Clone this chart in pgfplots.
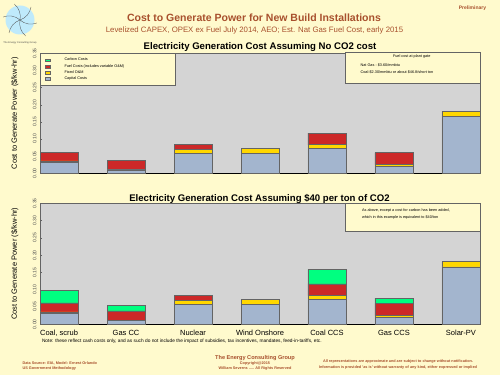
\documentclass[border=0pt]{standalone}
\usepackage{pgfplots}
\pgfplotsset{compat=1.18}
\usepackage{pgfplotstable}
\usepackage{fontspec}
\setmainfont{Liberation Sans}
\definecolor{cream}{RGB}{255,250,205}
\definecolor{plotbg}{RGB}{212,212,212}
\definecolor{capc}{RGB}{163,181,206}
\definecolor{fixc}{RGB}{255,215,0}
\definecolor{fuelc}{RGB}{204,40,40}
\definecolor{carbc}{RGB}{0,255,128}
\definecolor{brownt}{RGB}{168,80,45}
\definecolor{edgec}{RGB}{100,100,100}
\newcommand{\fs}[1]{\fontsize{#1}{#1}\selectfont}

\pgfplotstableread{
x cap fix fuel carb
0 0.032 0.004 0.026 0.035
1 0.010 0.0015 0.027 0.015
2 0.058 0.011 0.015 0.000
3 0.058 0.014 0.000 0.000
4 0.072 0.011 0.034 0.042
5 0.021 0.004 0.035 0.016
6 0.166 0.015 0.000 0.000
}\costdata

\pgfplotsset{
  costaxis/.style={
    scale only axis, width=440pt, height=120pt,
    xmin=-0.285, xmax=6.285, ymin=0, ymax=0.35,
    ybar stacked, bar width=38pt,
    axis background/.style={fill=plotbg},
    axis line style={draw=edgec, line width=0.6pt},
    ytick={0,0.05,...,0.36}, ytick pos=left,
    yticklabel style={rotate=90, anchor=south, font=\fs{5}, text=black!70,
      /pgf/number format/.cd, fixed, fixed zerofill, precision=2, assume math mode=true},
    ytick style={draw=edgec}, major tick length=2pt,
    xtick style={draw=none},
    every axis y label/.style={at={(axis description cs:-0.057,0.5)}, rotate=90, anchor=center, font=\fs{7.5}},
    ylabel={Cost to Generate Power (\$/kw-hr)},
    every axis plot/.append style={draw=edgec, line width=0.7pt},
  },
}

\begin{document}
\begin{tikzpicture}[x=1pt,y=1pt]
\path[use as bounding box, fill=cream] (0,0) rectangle (500,375);

% logo
\fill[cyan!25!white] (20,355) circle (14.5);
\foreach \a in {0,60,...,300}{
  \draw[black!70, line width=0.3pt, rotate around={\a:(20,355)}] (20,355) .. controls (26,357) and (30,362) .. (31,368);
}
\node[font=\fs{2.5}, text=black!70] at (20,332) {The Energy Consulting Group};

% titles
\node[font=\bfseries\fs{10.5}, text=brownt] at (254,357) {Cost to Generate Power for New Build Installations};
\node[font=\fs{7.8}, text=brownt] at (254.5,345) {Levelized CAPEX, OPEX ex Fuel July 2014, AEO; Est. Nat Gas Fuel Cost, early 2015};
\node[font=\bfseries\fs{5}, text=brownt] at (472.5,366.7) {Preliminary};

% top chart
\begin{axis}[costaxis, at={(40pt,201.7pt)}, anchor=south west,
  xtick={0,...,6}, xticklabels={},
  reverse legend,
  legend style={at={(0,1)}, anchor=north west, fill=cream, draw=edgec, line width=0.6pt,
    font=\fs{3.8}, legend cell align=left, row sep=-2pt, inner xsep=5pt, inner ysep=2.5pt},
  legend image code/.code={\path[draw=none, fill=none] (0pt,0pt) -- (17pt,0pt); \draw[#1, draw=edgec, line width=0.4pt] (0pt,-1.4pt) rectangle (5pt,1.4pt);},
]
\addplot[fill=capc] table[x=x, y=cap] {\costdata};
\addplot[fill=fixc] table[x=x, y=fix] {\costdata};
\addplot[fill=fuelc] table[x=x, y=fuel] {\costdata};
\addlegendimage{fill=carbc, draw=edgec}
\legend{Capital Costs, Fixed O\&M, Fuel Costs (includes variable O\&M)\hspace*{44pt}\null, Carbon Costs}
\draw[black, line width=1pt] (rel axis cs:0,0) -- (rel axis cs:1,0);
\end{axis}

% bottom chart
\begin{axis}[costaxis, at={(40pt,50.7pt)}, anchor=south west, height=121pt,
  xtick={0,...,6},
  xticklabels={{Coal, scrub},{Gas CC},{Nuclear},{Wind Onshore},{Coal CCS},{Gas CCS},{Solar-PV}},
  xticklabel style={font=\fs{7.5}, yshift=-2.5pt},
]
\addplot[fill=capc] table[x=x, y=cap] {\costdata};
\addplot[fill=fixc] table[x=x, y=fix] {\costdata};
\addplot[fill=fuelc] table[x=x, y=fuel] {\costdata};
\addplot[fill=carbc] table[x=x, y=carb] {\costdata};
\draw[black, line width=1pt] (rel axis cs:0,0) -- (rel axis cs:1,0);
\end{axis}

% chart titles
\node[font=\bfseries\fs{9.6}] at (260,327.5) {Electricity Generation Cost Assuming No CO2 cost};
\node[font=\bfseries\fs{9.6}] at (259.5,175.7) {Electricity Generation Cost Assuming \$40 per ton of CO2};

% annotation boxes
\draw[fill=cream, draw=edgec, line width=0.6pt] (345.7,291.7) rectangle (480,323);
\node[font=\fs{3.8}] at (411.7,318.3) {Fuel cost at plant gate};
\node[font=\fs{3.8}, anchor=west] at (357,310) {Nat Gas - \$3.60/mmbtu};
\node[font=\fs{3.8}, anchor=west] at (357,303) {Coal-\$2.30/mmbtu or about \$46.8/short ton};

\draw[fill=cream, draw=edgec, line width=0.6pt] (345.7,143.3) rectangle (480,171.7);
\node[font=\fs{3.8}, anchor=west] at (358.5,164) {As above, except a cost for carbon has been added,};
\node[font=\fs{3.8}, anchor=west] at (358.5,157.7) {which in this example is equivalent to \$40/ton};

% footer
\node[font=\fs{4.8}, anchor=west] at (38.5,34) {Note: these reflect cash costs only, and as such do not include the impact of subsidies, tax incentives, mandates, feed-in-tariffs, etc.};
\node[font=\bfseries\fs{3.8}, text=brownt, anchor=west] at (19,11.7) {Data Source: EIA, Model: Ernest Orlando};
\node[font=\bfseries\fs{3.8}, text=brownt, anchor=west] at (19,6.3) {US Government Methodology};
\node[font=\bfseries\fs{5.6}, text=brownt] at (255,17) {The Energy Consulting Group};
\node[font=\bfseries\fs{3.8}, text=brownt] at (255,11.5) {Copyright@2015};
\node[font=\bfseries\fs{3.8}, text=brownt] at (255,6.5) {William Severns ..... All Rights Reserved};
\node[font=\bfseries\fs{3.8}, text=brownt] at (398,13) {All representations are approximate and are subject to change without notification.};
\node[font=\bfseries\fs{3.8}, text=brownt] at (398,7) {Information is provided 'as is' without warranty of any kind, either expressed or implied};
\end{tikzpicture}
\end{document}
